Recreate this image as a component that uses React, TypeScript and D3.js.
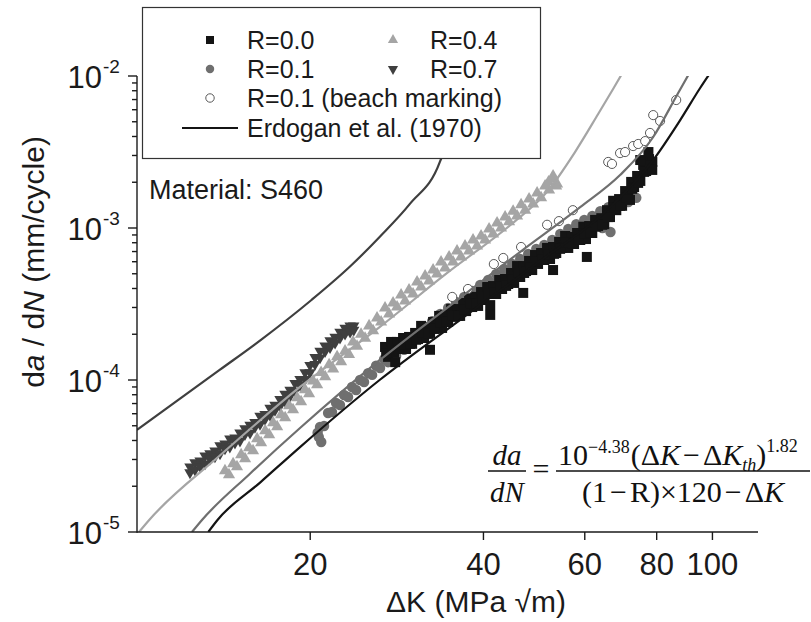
import React from "react";
import * as d3 from "d3";

const W = 811;
const H = 622;
const SANS = "'Liberation Sans', Arial, Helvetica, sans-serif";
const SERIF = "'Liberation Serif', 'Times New Roman', serif";

// axis ticks
const xTickValues = [20, 40, 60, 80, 100];
const yTickValues = [1e-2, 1e-3, 1e-4, 1e-5];
const yTickExponents = ["-2", "-3", "-4", "-5"];

// data: [ΔK (MPa√m), da/dN (mm/cycle)]
const r07: number[][] = [
  [12.36, 2.69e-5], [12.36, 2.46e-5], [12.61, 2.86e-5], [12.61, 2.56e-5], [12.87, 2.94e-5], [12.87, 2.69e-5],
  [13.13, 3.17e-5], [13.13, 2.81e-5], [13.39, 3.28e-5], [13.39, 3.03e-5], [13.66, 3.42e-5], [13.66, 3.13e-5],
  [13.94, 3.7e-5], [13.94, 3.28e-5], [14.22, 3.81e-5], [14.22, 3.53e-5], [14.5, 4.11e-5], [14.5, 3.63e-5],
  [14.8, 4.17e-5], [14.8, 3.86e-5], [15.1, 4.49e-5], [15.1, 3.98e-5], [15.4, 4.8e-5], [15.4, 4.38e-5],
  [15.72, 5.05e-5], [15.72, 4.48e-5], [16.03, 5.28e-5], [16.03, 4.9e-5], [16.36, 5.79e-5], [16.36, 5.12e-5],
  [16.69, 5.96e-5], [16.69, 5.52e-5], [17.03, 6.53e-5], [17.03, 5.87e-5], [17.37, 6.84e-5], [17.37, 6.33e-5],
  [17.72, 7.48e-5], [17.72, 6.73e-5], [18.08, 8.07e-5], [18.08, 7.26e-5], [18.45, 8.58e-5], [18.45, 7.83e-5],
  [18.82, 9.53e-5], [18.82, 8.45e-5], [19.2, 1.01e-4], [19.2, 9.25e-5], [19.59, 1.12e-4], [19.59, 1.01e-4],
  [19.98, 1.25e-4], [19.98, 1.12e-4], [20.39, 1.41e-4], [20.39, 1.27e-4], [20.8, 1.55e-4], [20.8, 1.4e-4],
  [21.22, 1.68e-4], [21.22, 1.54e-4], [21.65, 1.82e-4], [21.65, 1.64e-4], [22.09, 1.92e-4], [22.09, 1.75e-4],
  [22.53, 2.07e-4], [22.53, 1.89e-4], [22.99, 2.2e-4], [22.99, 2.01e-4], [23.46, 2.27e-4], [23.46, 2.07e-4],
  [23.8, 2.27e-4], [23.8, 2.13e-4],
];

const r04: number[][] = [
  [14.22, 2.53e-5], [14.69, 2.81e-5], [15.17, 3.22e-5], [15.66, 3.58e-5], [16.17, 4.1e-5], [16.7, 4.63e-5],
  [17.24, 5.23e-5], [17.8, 5.91e-5], [18.38, 6.77e-5], [18.98, 7.64e-5], [19.59, 8.62e-5], [20.23, 9.86e-5],
  [20.89, 1.12e-4], [21.57, 1.26e-4], [22.27, 1.42e-4], [22.99, 1.55e-4], [23.74, 1.78e-4], [24.51, 2.0e-4],
  [25.31, 2.27e-4], [26.13, 2.56e-4], [26.98, 2.98e-4], [27.86, 3.21e-4], [28.77, 3.62e-4], [29.7, 3.91e-4],
  [30.67, 4.41e-4], [31.67, 4.83e-4], [32.7, 5.29e-4], [33.76, 5.97e-4], [34.86, 6.45e-4], [35.99, 7.06e-4],
  [37.16, 7.61e-4], [38.37, 8.34e-4], [39.62, 8.86e-4], [40.91, 9.85e-4], [42.24, 1.08e-3], [43.62, 1.18e-3],
  [45.04, 1.29e-3], [46.5, 1.42e-3], [48.01, 1.55e-3], [49.58, 1.7e-3], [51.19, 1.89e-3], [52.85, 2.1e-3],
  [14.45, 2.38e-5], [14.92, 2.69e-5], [15.41, 3.03e-5], [15.91, 3.42e-5], [16.43, 3.86e-5], [16.97, 4.36e-5],
  [17.52, 4.92e-5], [18.09, 5.65e-5], [18.67, 6.37e-5], [19.28, 7.19e-5], [19.91, 8.12e-5], [20.56, 9.3e-5],
  [21.23, 1.05e-4], [21.92, 1.18e-4], [22.63, 1.32e-4], [23.36, 1.47e-4], [24.12, 1.67e-4], [24.91, 1.88e-4],
  [25.72, 2.11e-4], [26.56, 2.41e-4], [27.42, 2.72e-4], [28.31, 3.02e-4], [29.23, 3.31e-4], [30.18, 3.68e-4],
  [31.17, 4.09e-4], [32.18, 4.48e-4], [33.23, 4.98e-4], [34.31, 5.46e-4], [35.42, 5.97e-4], [36.57, 6.45e-4],
  [37.76, 7.06e-4], [38.99, 7.61e-4], [40.26, 8.34e-4], [41.57, 9.13e-4], [42.92, 1.0e-3], [44.32, 1.1e-3],
  [45.76, 1.2e-3], [47.25, 1.31e-3], [48.79, 1.44e-3], [50.38, 1.58e-3], [52.01, 1.78e-3], [53.71, 1.95e-3],
  [52.85, 2.2e-3], [51.9, 2.01e-3], [53.5, 1.89e-3],
];

const r01: number[][] = [
  [20.8, 4.91e-5], [21.48, 6.07e-5], [22.18, 7.06e-5], [22.9, 7.97e-5], [23.64, 8.99e-5], [24.41, 1.0e-4],
  [25.21, 1.11e-4], [26.03, 1.24e-4], [26.88, 1.37e-4], [27.75, 1.51e-4], [28.66, 1.65e-4], [29.59, 1.83e-4],
  [30.55, 2.01e-4], [31.55, 2.23e-4], [32.58, 2.44e-4], [33.64, 2.72e-4], [34.73, 2.98e-4], [35.86, 3.26e-4],
  [37.03, 3.52e-4], [38.24, 3.85e-4], [39.48, 4.22e-4], [40.77, 4.55e-4], [42.09, 4.98e-4], [43.46, 5.37e-4],
  [44.88, 5.8e-4], [46.34, 6.25e-4], [47.85, 6.75e-4], [49.41, 7.28e-4], [51.02, 7.73e-4], [52.68, 8.34e-4],
  [54.39, 9.13e-4], [56.16, 9.85e-4], [57.99, 1.06e-3], [59.88, 1.13e-3], [61.83, 1.2e-3], [63.84, 1.29e-3],
  [65.92, 1.37e-3], [68.07, 1.48e-3], [70.28, 1.58e-3], [72.57, 1.67e-3],
  [21.14, 4.98e-5], [21.82, 6.16e-5], [22.53, 6.85e-5], [23.27, 7.73e-5], [24.03, 8.6e-5], [24.81, 9.7e-5],
  [25.62, 1.08e-4], [26.45, 1.2e-4], [27.31, 1.31e-4], [28.2, 1.44e-4], [29.12, 1.58e-4], [30.07, 1.75e-4],
  [31.05, 1.95e-4], [32.06, 2.13e-4], [33.1, 2.37e-4], [34.18, 2.6e-4], [35.29, 2.84e-4], [36.44, 3.07e-4],
  [37.63, 3.36e-4], [38.85, 3.68e-4], [40.12, 4.03e-4], [41.42, 4.35e-4], [42.77, 4.69e-4], [44.17, 5.13e-4],
  [45.6, 5.54e-4], [47.09, 5.89e-4], [48.62, 6.35e-4], [50.21, 6.85e-4], [51.84, 7.39e-4], [53.53, 7.97e-4],
  [55.27, 8.6e-4], [57.07, 9.27e-4], [58.93, 1.0e-3], [60.85, 1.06e-3], [62.83, 1.15e-3], [64.87, 1.22e-3],
  [66.99, 1.31e-3], [69.17, 1.4e-3], [71.42, 1.48e-3], [73.74, 1.58e-3],
  [20.7, 4.22e-5], [20.9, 3.91e-5], [20.6, 4.5e-5], [64.4, 1.0e-3], [66.5, 9.41e-4], [61.3, 1.1e-3],
];

const r00: number[][] = [
  [26.98, 1.65e-4], [27.64, 1.78e-4], [28.31, 1.78e-4], [29.0, 1.89e-4], [29.7, 1.92e-4], [30.43, 2.04e-4],
  [31.17, 2.27e-4], [31.92, 2.23e-4], [32.7, 2.41e-4], [33.5, 2.64e-4], [34.31, 2.68e-4], [35.14, 2.93e-4],
  [35.99, 2.93e-4], [36.88, 3.21e-4], [37.76, 3.52e-4], [38.7, 3.52e-4], [39.62, 3.79e-4], [40.6, 4.09e-4],
  [41.57, 4.15e-4], [42.6, 4.55e-4], [43.62, 4.62e-4], [44.67, 5.06e-4], [45.76, 5.62e-4], [46.89, 5.62e-4],
  [48.01, 6.07e-4], [49.17, 6.64e-4], [50.38, 6.85e-4], [51.59, 7.39e-4], [52.85, 7.5e-4], [54.14, 8.09e-4],
  [55.46, 8.86e-4], [56.79, 8.73e-4], [58.18, 9.27e-4], [59.64, 1.02e-3], [61.06, 1.03e-3], [62.53, 1.13e-3],
  [64.09, 1.16e-3], [65.58, 1.31e-3], [67.21, 1.51e-3], [68.83, 1.55e-3], [70.51, 1.75e-3], [72.24, 2.01e-3],
  [73.98, 2.2e-3], [75.79, 2.6e-3], [77.6, 2.84e-3],
  [27.31, 1.42e-4], [27.97, 1.51e-4], [28.66, 1.6e-4], [29.35, 1.6e-4], [30.07, 1.73e-4], [30.79, 1.86e-4],
  [31.55, 1.89e-4], [32.31, 2.04e-4], [33.1, 2.17e-4], [33.9, 2.2e-4], [34.73, 2.41e-4], [35.57, 2.6e-4],
  [36.44, 2.64e-4], [37.32, 2.84e-4], [38.24, 3.02e-4], [39.16, 3.07e-4], [40.12, 3.36e-4], [41.09, 3.68e-4],
  [42.09, 3.68e-4], [43.1, 3.97e-4], [44.17, 4.28e-4], [45.23, 4.35e-4], [46.34, 4.76e-4], [47.44, 5.21e-4],
  [48.62, 5.29e-4], [49.77, 5.8e-4], [51.02, 6.16e-4], [52.22, 6.25e-4], [53.53, 6.85e-4], [54.82, 7.39e-4],
  [56.16, 7.39e-4], [57.48, 7.85e-4], [58.93, 8.34e-4], [60.3, 8.46e-4], [61.83, 9.27e-4], [63.29, 1.03e-3],
  [64.87, 1.06e-3], [66.38, 1.18e-3], [68.07, 1.31e-3], [69.67, 1.4e-3], [71.42, 1.6e-3], [73.1, 1.86e-3],
  [74.94, 2.04e-3], [76.7, 2.37e-3], [78.62, 2.72e-3],
  [27.1, 1.49e-4], [27.76, 1.6e-4], [28.43, 1.6e-4], [29.12, 1.7e-4], [29.82, 1.73e-4], [30.55, 1.84e-4],
  [31.3, 2.05e-4], [32.05, 2.01e-4], [32.83, 2.17e-4], [33.64, 2.38e-4], [34.45, 2.41e-4], [35.28, 2.64e-4],
  [36.14, 2.64e-4], [37.03, 2.89e-4], [37.92, 3.17e-4], [38.86, 3.17e-4], [39.78, 3.41e-4], [40.77, 3.68e-4],
  [41.74, 3.74e-4], [42.78, 4.1e-4], [43.8, 4.16e-4], [44.85, 4.56e-4], [45.95, 5.06e-4], [47.08, 5.06e-4],
  [48.2, 5.47e-4], [49.37, 5.98e-4], [50.59, 6.17e-4], [51.8, 6.66e-4], [53.07, 6.76e-4], [54.36, 7.29e-4],
  [55.69, 7.98e-4], [57.02, 7.86e-4], [58.42, 8.35e-4], [59.88, 9.19e-4], [61.31, 9.28e-4], [62.78, 1.02e-3],
  [64.35, 1.05e-3], [65.85, 1.18e-3], [67.48, 1.36e-3], [69.11, 1.4e-3], [70.8, 1.58e-3], [72.53, 1.81e-3],
  [74.28, 1.98e-3], [76.1, 2.34e-3], [77.9, 2.56e-3],
  [28.1, 1.31e-4], [46.9, 3.74e-4], [41.1, 3.11e-4], [41.1, 2.68e-4], [32.3, 1.58e-4], [52.85, 5.29e-4],
  [60.5, 6.45e-4], [77.4, 3.16e-3], [74.9, 2.8e-3], [78.6, 2.41e-3], [71.9, 1.53e-3],
];

const beach: number[][] = [
  [35.3, 3.52e-4], [37.6, 3.97e-4], [41.7, 5.79e-4], [43.3, 6.35e-4], [46.5, 7.5e-4], [51.6, 1.05e-3],
  [54.1, 1.11e-3], [57.2, 1.31e-3], [65.9, 2.72e-3], [66.9, 2.64e-3], [69.1, 3.11e-3], [70.5, 3.16e-3],
  [72.8, 3.46e-3], [74.3, 3.57e-3], [76.4, 3.73e-3], [77.9, 4.22e-3], [78.9, 5.53e-3], [81.1, 5.06e-3],
  [86.5, 6.95e-3],
];

// Erdogan et al. (1970) curves
const fitR00: number[][] = [
  [13.3, 1e-5], [13.8, 1.2e-5], [16.4, 2.13e-5], [19.2, 3.62e-5], [26.4, 1.0e-4], [36.4, 2.48e-4],
  [50.2, 6.07e-4], [65.6, 1.31e-3], [78.9, 2.8e-3], [87.9, 5.13e-3], [95.2, 8.34e-3], [99.8, 1.09e-2],
];
const fitR01: number[][] = [
  [12.46, 1e-5], [12.97, 1.2e-5], [15.7, 2.41e-5], [19.2, 4.83e-5], [26.4, 1.35e-4], [36.4, 3.46e-4],
  [46.3, 6.95e-4], [58.9, 1.37e-3], [69.1, 2.23e-3], [78.9, 3.97e-3], [86.8, 7.5e-3], [91.4, 1.06e-2],
];
const fitR04: number[][] = [
  [10.08, 1e-5], [10.5, 1.2e-5], [13.9, 3.16e-5], [19.2, 9.0e-5], [26.4, 2.23e-4], [34.6, 5.06e-4],
  [45.0, 1.08e-3], [51.6, 1.73e-3], [57.7, 3.16e-3], [63.3, 5.62e-3], [67.2, 8.21e-3], [70.2, 1.09e-2],
];
const fitR07: number[][] = [
  [10.0, 4.69e-5], [13.9, 1.16e-4], [16.4, 1.83e-4], [20.1, 3.36e-4], [23.5, 5.62e-4], [26.4, 8.73e-4],
  [29.8, 1.44e-3], [33.6, 2.72e-3], [35.0, 4.4e-3], [35.8, 8.1e-3], [36.0, 1.2e-2],
];

const C_R00 = "#141414";
const C_R01 = "#6f6f6f";
const C_R04 = "#a5a5a5";
const C_R07 = "#3f3f3f";

export default function App() {
  const x = d3.scaleLog().domain([10, 120]).range([137, 758]);
  const y = d3.scaleLog().domain([1e-5, 1e-2]).range([532, 76]);
  const line = d3
    .line<number[]>()
    .x((d) => x(d[0]))
    .y((d) => y(d[1]))
    .curve(d3.curveMonotoneX);

  // plot markers (dense) and legend markers
  const sq = d3.symbol().type(d3.symbolSquare).size(100)() as string;
  const tri = d3.symbol().type(d3.symbolTriangle).size(64)() as string;
  const dtri = d3.symbol().type(d3.symbolTriangle).size(56)() as string;
  const circ = d3.symbol().type(d3.symbolCircle).size(85)() as string;
  const ocirc = d3.symbol().type(d3.symbolCircle).size(66)() as string;
  const lsq = d3.symbol().type(d3.symbolSquare).size(64)() as string;
  const ltri = d3.symbol().type(d3.symbolTriangle).size(45)() as string;
  const lcirc = d3.symbol().type(d3.symbolCircle).size(56)() as string;

  const minor: number[] = [];
  for (let e = -5; e < -2; e++) for (let m = 2; m < 10; m++) minor.push(m * Math.pow(10, e));

  const [x0, x1] = x.range();
  const [y0, y1] = y.range();

  return (
    <svg
      width={W}
      height={H}
      viewBox={`0 0 ${W} ${H}`}
      style={{ position: "absolute", left: 0, top: 0, background: "#fff" }}
      fontFamily={SANS}
    >
      <defs>
        <clipPath id="plotclip">
          <rect x={x0} y={y1} width={x1 - x0} height={y0 - y1} />
        </clipPath>
      </defs>
      <rect width={W} height={H} fill="#fff" />

      {/* data */}
      <g>
        {r07.map((d, i) => (
          <path key={"a" + i} d={dtri} fill={C_R07} transform={`translate(${x(d[0])},${y(d[1])}) rotate(180)`} />
        ))}
        {r04.map((d, i) => (
          <path key={"b" + i} d={tri} fill={C_R04} transform={`translate(${x(d[0])},${y(d[1])})`} />
        ))}
        {r01.map((d, i) => (
          <path key={"c" + i} d={circ} fill={C_R01} transform={`translate(${x(d[0])},${y(d[1])})`} />
        ))}
        {r00.map((d, i) => (
          <path key={"d" + i} d={sq} fill={C_R00} transform={`translate(${x(d[0])},${y(d[1])})`} />
        ))}
        {beach.map((d, i) => (
          <path key={"e" + i} d={ocirc} fill="#fff" stroke="#5a5a5a" strokeWidth={1}
            transform={`translate(${x(d[0])},${y(d[1])})`} />
        ))}
      </g>

      {/* Erdogan curves */}
      <g clipPath="url(#plotclip)" fill="none" strokeWidth={2.2}>
        <path d={line(fitR07) as string} stroke={C_R07} />
        <path d={line(fitR04) as string} stroke={C_R04} />
        <path d={line(fitR01) as string} stroke={C_R01} />
        <path d={line(fitR00) as string} stroke={C_R00} />
      </g>

      {/* axes */}
      <g stroke="#1a1a1a" strokeWidth={1.4}>
        <line x1={x0} y1={y1} x2={x0} y2={y0 + 0.7} />
        <line x1={x0} y1={y0} x2={x1} y2={y0} />
        {yTickValues.map((v) => (
          <line key={"yt" + v} x1={x0 - 9} x2={x0} y1={y(v)} y2={y(v)} />
        ))}
        {minor.map((v) => (
          <line key={"ym" + v} x1={x0 - 5} x2={x0} y1={y(v)} y2={y(v)} />
        ))}
        {xTickValues.map((v) => (
          <line key={"xt" + v} x1={x(v)} x2={x(v)} y1={y0} y2={y0 + 8} />
        ))}
      </g>
      <g fill="#1a1a1a">
        {yTickValues.map((v, i) => (
          <g key={"yl" + v}>
            <text x={102} y={y(v) + 12} fontSize={31} textAnchor="end">10</text>
            <text x={103} y={y(v) - 3} fontSize={19}>{yTickExponents[i]}</text>
          </g>
        ))}
        {xTickValues.map((v) => (
          <text key={"xl" + v} x={x(v)} y={575} fontSize={31} textAnchor="middle">{v}</text>
        ))}
        <text x={476} y={612} fontSize={30} textAnchor="middle">ΔK (MPa √m)</text>
        <text transform="translate(44,262) rotate(-90)" fontSize={30} textAnchor="middle">
          d<tspan fontStyle="italic">a</tspan> / d<tspan fontStyle="italic">N</tspan> (mm/cycle)
        </text>
        <text x={149} y={199} fontSize={27}>Material: S460</text>
      </g>

      {/* legend */}
      <g>
        <rect x={142.5} y={7.5} width={398} height={151} fill="#fff" stroke="#333" strokeWidth={1.2} />
        <path d={lsq} fill={C_R00} transform="translate(210,40)" />
        <path d={lcirc} fill={C_R01} transform="translate(210,69)" />
        <path d={lcirc} fill="#fff" stroke="#5a5a5a" transform="translate(210,98)" />
        <line x1={182} x2={238} y1={128} y2={128} stroke={C_R00} strokeWidth={2.2} />
        <path d={ltri} fill={C_R04} transform="translate(393,40)" />
        <path d={ltri} fill={C_R07} transform="translate(393,69) rotate(180)" />
        <g fontSize={25} fill="#1a1a1a">
          <text x={247} y={49}>R=0.0</text>
          <text x={247} y={78}>R=0.1</text>
          <text x={247} y={107}>R=0.1 (beach marking)</text>
          <text x={247} y={137}>Erdogan et al. (1970)</text>
          <text x={430} y={49}>R=0.4</text>
          <text x={430} y={78}>R=0.7</text>
        </g>
      </g>

      {/* formula */}
      <g fontFamily={SERIF} fill="#111" fontSize={30}>
        <text x={507} y={465} textAnchor="middle" fontStyle="italic" fontSize={29}>da</text>
        <line x1={488} x2={526} y1={471} y2={471} stroke="#111" strokeWidth={1.3} />
        <text x={507} y={502} textAnchor="middle" fontStyle="italic" fontSize={29}>dN</text>
        <text x={541} y={479} textAnchor="middle">=</text>
        <line x1={556} x2={810} y1={471} y2={471} stroke="#111" strokeWidth={1.3} />
        <text x={558} y={465}>
          10
          <tspan dy={-12} fontSize={18}>−4.38</tspan>
          <tspan dy={12} dx={1}>(Δ</tspan>
          <tspan fontStyle="italic">K</tspan>
          <tspan dx={3}>−</tspan>
          <tspan dx={3}>Δ</tspan>
          <tspan fontStyle="italic">K</tspan>
          <tspan dy={6} fontSize={18} fontStyle="italic">th</tspan>
          <tspan dy={-6}>)</tspan>
          <tspan dy={-13} fontSize={18}>1.82</tspan>
        </text>
        <text x={683} y={502} textAnchor="middle">
          (1<tspan dx={3}>−</tspan><tspan dx={3}>R)×120</tspan><tspan dx={3}>−</tspan><tspan dx={3}>Δ</tspan><tspan fontStyle="italic">K</tspan>
        </text>
      </g>
    </svg>
  );
}
